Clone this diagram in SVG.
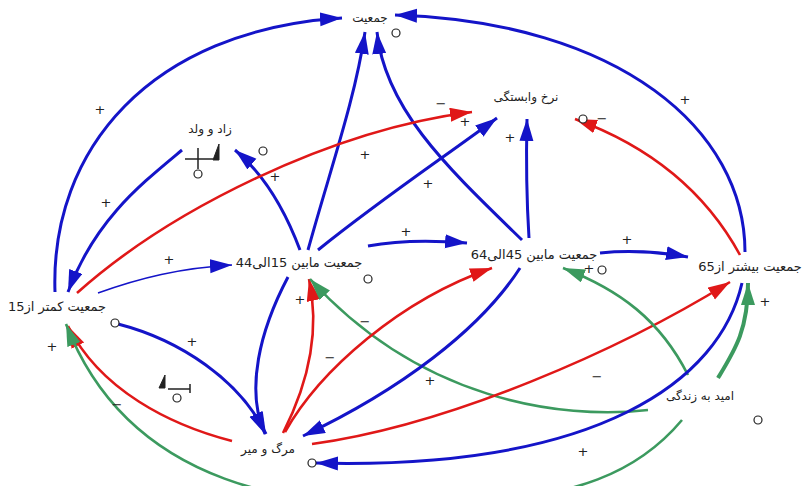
<svg xmlns="http://www.w3.org/2000/svg" width="804" height="486" viewBox="0 0 804 486">
<style>
.lbl{font-family:"DejaVu Sans",sans-serif;font-size:13px;fill:#222;text-anchor:middle}
.sm{font-size:12px}
.sg{font-family:"DejaVu Sans",sans-serif;font-size:13px;fill:#222;text-anchor:middle}
.b{fill:none;stroke:#1414c8;stroke-width:3}
.bt{fill:none;stroke:#1414c8;stroke-width:1.6}
.r{fill:none;stroke:#e01818;stroke-width:2.6}
.g{fill:none;stroke:#3c9a5f;stroke-width:2.6}
.gt{fill:none;stroke:#3c9a5f;stroke-width:4}
.c{fill:#fff;stroke:#222;stroke-width:1.2}
.sym{stroke:#222;stroke-width:1.5;fill:none}
</style>
<defs>
<marker id="ab" markerUnits="userSpaceOnUse" markerWidth="24" markerHeight="16" refX="22" refY="7" orient="auto"><path d="M0,0 L22,7 L0,14 z" fill="#1414c8"/></marker>
<marker id="ar" markerUnits="userSpaceOnUse" markerWidth="24" markerHeight="16" refX="22" refY="7" orient="auto"><path d="M0,0 L22,7 L0,14 z" fill="#e01818"/></marker>
<marker id="ag" markerUnits="userSpaceOnUse" markerWidth="24" markerHeight="16" refX="22" refY="7" orient="auto"><path d="M0,0 L22,7 L0,14 z" fill="#3c9a5f"/></marker>
</defs>
<rect width="804" height="486" fill="#fff"/>
<g id="connectors">
<path class="b" d="M55,292 C50,150 150,30 342,18" marker-end="url(#ab)"/>
<path class="b" d="M745,252 C745,130 620,22 395,15" marker-end="url(#ab)"/>
<path class="b" d="M308,250 C330,170 355,100 365,32" marker-end="url(#ab)"/>
<path class="b" d="M522,240 C450,170 385,110 377,32" marker-end="url(#ab)"/>
<path class="b" d="M300,250 C285,210 265,175 235,150" marker-end="url(#ab)"/>
<path class="b" d="M318,250 C380,200 440,160 497,118" marker-end="url(#ab)"/>
<path class="b" d="M529,238 C526,190 526,160 527,119" marker-end="url(#ab)"/>
<path class="r" d="M740,255 C710,200 660,150 575,119" marker-end="url(#ar)"/>
<path class="r" d="M77,293 C170,210 330,130 472,112" marker-end="url(#ar)"/>
<path class="b" d="M182,150 C140,185 95,220 68,292" marker-end="url(#ab)"/>
<path class="bt" d="M98,293 C140,278 180,268 232,265" marker-end="url(#ab)"/>
<path class="b" d="M368,246 C400,240 430,240 467,243" marker-end="url(#ab)"/>
<path class="b" d="M600,253 C630,250 660,252 688,257" marker-end="url(#ab)"/>
<path class="b" d="M118,324 C180,340 240,380 266,434" marker-end="url(#ab)"/>
<path class="b" d="M288,277 C260,330 245,390 265,434" marker-end="url(#ab)"/>
<path class="r" d="M283,433 C310,380 320,330 309,279" marker-end="url(#ar)"/>
<path class="g" d="M648,410 C560,420 420,400 310,279" marker-end="url(#ag)"/>
<path class="r" d="M285,432 C320,370 400,300 492,268" marker-end="url(#ar)"/>
<path class="b" d="M520,268 C480,330 400,390 303,436" marker-end="url(#ab)"/>
<path class="r" d="M312,444 C450,425 620,350 730,282" marker-end="url(#ar)"/>
<path class="r" d="M232,441 C170,425 100,390 68,326" marker-end="url(#ar)"/>
<path class="g" d="M682,420 C640,470 580,500 440,505 S130,490 66,324" marker-end="url(#ag)"/>
<path class="g" d="M688,375 C660,320 620,290 563,268" marker-end="url(#ag)"/>
<path class="gt" d="M718,378 C735,350 748,330 748,283" marker-end="url(#ag)"/>
<path class="b" d="M742,283 C720,380 600,470 316,463" marker-end="url(#ab)"/>
</g>
<g id="signs">
<text class="sg" x="100" y="114">+</text>
<text class="sg" x="685" y="104">+</text>
<text class="sg" x="365" y="159">+</text>
<text class="sg" x="428" y="188">+</text>
<text class="sg" x="465" y="126">+</text>
<text class="sg" x="510" y="142">+</text>
<text class="sg" x="275" y="181">+</text>
<text class="sg" x="106" y="207">+</text>
<text class="sg" x="169" y="264">+</text>
<text class="sg" x="406" y="236">+</text>
<text class="sg" x="627" y="244">+</text>
<text class="sg" x="192" y="346">+</text>
<text class="sg" x="300" y="304">+</text>
<text class="sg" x="430" y="385">+</text>
<text class="sg" x="589" y="273">+</text>
<text class="sg" x="765" y="306">+</text>
<text class="sg" x="583" y="456">+</text>
<text class="sg" x="52" y="351">+</text>
<text class="sg" x="441" y="108">−</text>
<text class="sg" x="602" y="123">−</text>
<text class="sg" x="330" y="362">−</text>
<text class="sg" x="365" y="326">−</text>
<text class="sg" x="597" y="381">−</text>
<text class="sg" x="117" y="409">−</text>
</g>
<g id="circles">
<circle class="c" cx="396" cy="33" r="4"/>
<circle class="c" cx="263" cy="151" r="4"/>
<circle class="c" cx="198" cy="174" r="4"/>
<circle class="c" cx="583" cy="119" r="4"/>
<circle class="c" cx="368" cy="279" r="4"/>
<circle class="c" cx="602" cy="270" r="4"/>
<circle class="c" cx="115" cy="323" r="4"/>
<circle class="c" cx="177" cy="398" r="4"/>
<circle class="c" cx="312" cy="463" r="4"/>
<circle class="c" cx="758" cy="420" r="4"/>
</g>
<g id="symbols">
<path class="sym" d="M185,159 H213 M198,148 V169"/>
<path d="M219,144 V160 H213 z" fill="#222" stroke="#222" stroke-width="1"/>
<path class="sym" d="M168,389 H190 M190,384 V393"/>
<path d="M165,375 V388 H159 z" fill="#222" stroke="#222" stroke-width="1"/>
</g>
<g id="n_jamiat"><text class="lbl sm" x="370" y="22">جمعیت</text></g>
<g id="n_zad"><text class="lbl sm" x="210" y="133">زاد و ولد</text></g>
<g id="n_nerkh"><text class="lbl sm" x="526" y="101">نرخ وابستگی</text></g>
<g id="n_kam15"><text class="lbl" x="57" y="311">جمعیت کمتر از15</text></g>
<g id="n_1544"><text class="lbl" x="299" y="267">جمعیت مابین 15الی44</text></g>
<g id="n_4564"><text class="lbl" x="534" y="259">جمعیت مابین 45الی64</text></g>
<g id="n_65"><text class="lbl" x="750" y="271">جمعیت بیشتر از65</text></g>
<g id="n_marg"><text class="lbl sm" x="268" y="453">مرگ و میر</text></g>
<g id="n_omid"><text class="lbl sm" x="700" y="400">امید به زندگی</text></g>
</svg>
